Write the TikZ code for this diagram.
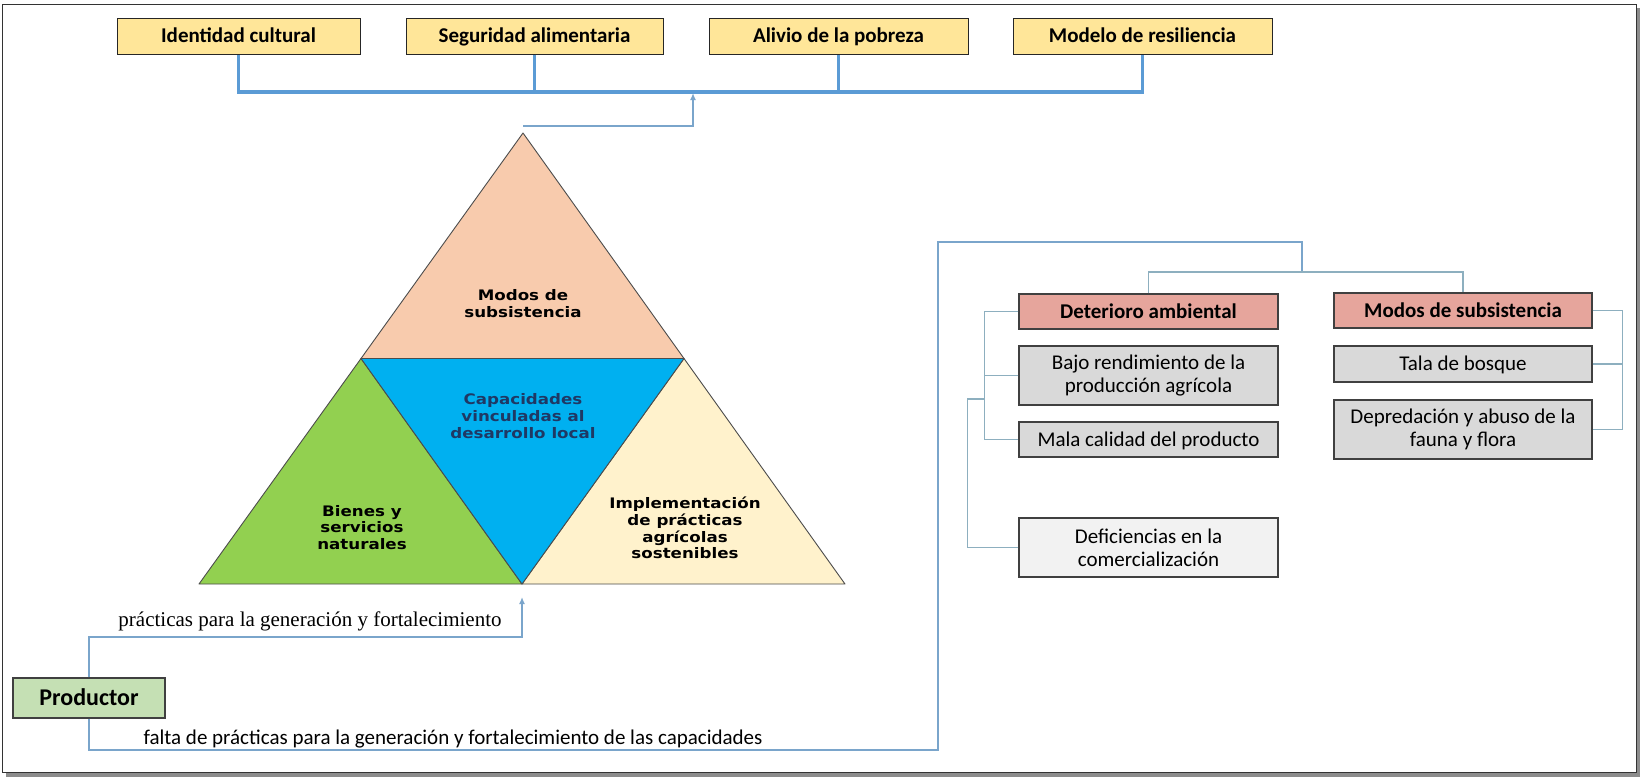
\documentclass[tikz,border=0pt]{standalone}
\usepackage{fontspec}
\setmainfont{Carlito}
\newfontfamily\trifont[FakeStretch=1.15]{DejaVu Sans}
\newfontfamily\serifont{Liberation Serif}
\usetikzlibrary{arrows.meta, positioning}
\definecolor{barblue}{HTML}{5B9BD5}
\definecolor{linkblue}{HTML}{7AA5CB}
\definecolor{treeline}{HTML}{8DAFBF}
\definecolor{goalfill}{HTML}{FFE699}
\definecolor{causefill}{HTML}{E6A59C}
\definecolor{effectfill}{HTML}{D9D9D9}
\definecolor{lightfill}{HTML}{F2F2F2}
\definecolor{prodfill}{HTML}{C5E0B4}
\definecolor{tripeach}{HTML}{F8CBAD}
\definecolor{trigreen}{HTML}{92D050}
\definecolor{triblue}{HTML}{00B0F0}
\definecolor{tricream}{HTML}{FFF2CC}
\definecolor{trinavy}{HTML}{1F3864}
\def\barY{92}
\def\treeY{272}

\begin{document}
\begin{tikzpicture}[
    x=1pt, y=-1pt,
    >={Latex[length=7pt,width=6pt]},
    oneline/.style={text height=15pt, text depth=2pt},
    goalbox/.style={draw=black!85, fill=goalfill, line width=1pt, minimum height=36pt,
        inner sep=0pt, oneline, font=\bfseries\fontsize{21}{24}\selectfont},
    causebox/.style={draw=black!75, fill=causefill, line width=1.2pt, minimum width=259pt,
        minimum height=35pt, inner sep=0pt, oneline, font=\bfseries\fontsize{21}{24}\selectfont},
    effectbox/.style={draw=black!75, fill=effectfill, line width=1.2pt, minimum width=259pt,
        minimum height=35pt, inner sep=0pt, align=center, font=\fontsize{21}{23}\selectfont},
    prodbox/.style={draw=black!75, fill=prodfill, line width=1.2pt, minimum width=152pt,
        minimum height=40pt, inner sep=0pt, text height=17pt, text depth=2pt,
        font=\bfseries\fontsize{24}{26}\selectfont},
    tri/.style={draw=black!70, line width=0.9pt, line join=round},
    trilabel/.style={align=center, inner sep=0pt, font=\trifont\bfseries\fontsize{14.5}{16.8}\selectfont},
    bar/.style={draw=barblue, line width=3.5pt},
    link/.style={draw=linkblue, line width=1.5pt},
    tree/.style={draw=treeline, line width=1.5pt}
]
\useasboundingbox (0,0) rectangle (1640,777);
% frame with shadow
\fill[black!45] (6,8) rectangle (1640,777);
\filldraw[fill=white, draw=black!80, line width=1pt] (2,4) rectangle (1636,772);

% goals on top
\node[goalbox, minimum width=243pt] (ident) at (238.5,36) {Identidad cultural};
\node[goalbox, minimum width=257pt] (segur) at (534.5,36) {Seguridad alimentaria};
\node[goalbox, minimum width=259pt] (alivio) at (838.5,36) {Alivio de la pobreza};
\node[goalbox, minimum width=259pt] (resil) at (1142.5,36) {Modelo de resiliencia};
\draw[bar] (ident.south) |- (resil.south |- 0,\barY) -- (resil.south);
\draw[bar] (segur.south) -- (segur.south |- 0,\barY);
\draw[bar] (alivio.south) -- (alivio.south |- 0,\barY);

% triangle
\coordinate (apex) at (523,133);
\coordinate (baseL) at (199,584);
\coordinate (baseR) at (845,584);
\coordinate (midL) at (361,358.5);
\coordinate (midR) at (684,358.5);
\coordinate (midB) at (522,584);
\filldraw[tri, fill=tripeach] (apex) -- (midL) -- (midR) -- cycle;
\filldraw[tri, fill=trigreen] (midL) -- (baseL) -- (midB) -- cycle;
\filldraw[tri, fill=tricream] (midR) -- (midB) -- (baseR) -- cycle;
\filldraw[tri, fill=triblue] (midL) -- (midR) -- (midB) -- cycle;
\node[trilabel] (modosTri) at (523,303.5) {Modos de\\subsistencia};
\node[trilabel, text=trinavy] (capac) at (523,416) {Capacidades\\vinculadas al\\desarrollo local};
\node[trilabel] (bienes) at (362,527.5) {Bienes y\\servicios\\naturales};
\node[trilabel] (implem) at (685,528) {Implementaci\'on\\de pr\'acticas\\agr\'icolas\\sostenibles};

% triangle up to the goals
\coordinate (apexLink) at (523,126);
\coordinate (barTip) at (693,93);
\draw[link, ->] (apexLink) -| (barTip);

% productor
\node[prodbox] (prod) at (89,698) {Productor};
\coordinate (baseTip) at (522,597);
\draw[link, ->] (prod.north) |- (baseTip |- 0,637) -- (baseTip);
\node[font=\serifont\fontsize{21}{24}\selectfont, inner sep=0pt] (practLbl) at (310,621)
    {pr\'acticas para la generaci\'on y fortalecimiento};

% right tree
\node[causebox] (deter) at (1148.5,311.5) {Deterioro ambiental};
\node[effectbox, minimum height=59pt] (bajo) at (1148.5,375.5) {Bajo rendimiento de la\\producci\'on agr\'icola};
\node[effectbox, oneline] (mala) at (1148.5,439.5) {Mala calidad del producto};
\node[effectbox, fill=lightfill, minimum height=59pt] (defic) at (1148.5,547.5) {Deficiencias en la\\comercializaci\'on};
\node[causebox, minimum width=258pt] (modos) at (1463,310.5) {Modos de subsistencia};
\node[effectbox, oneline, minimum width=258pt, minimum height=36pt] (tala) at (1463,364) {Tala de bosque};
\node[effectbox, minimum width=258pt, minimum height=59pt] (depre) at (1463,429.5) {Depredaci\'on y abuso de la\\fauna y flora};

\coordinate (faltaCorner) at (938,750);
\coordinate (treeTop) at (1302,242);
\draw[link] (prod.south) |- (faltaCorner) |- (treeTop) -- (treeTop |- 0,\treeY);
\node[inner sep=0pt, font=\fontsize{21}{24}\selectfont] (faltaLbl) at (453,739)
    {falta de pr\'acticas para la generaci\'on y fortalecimiento de las capacidades};
\draw[tree] (deter.north) |- (modos.north |- 0,\treeY) -- (modos.north);

% brackets
\coordinate (joinDef) at (985,399);
\draw[tree] (deter.west) -- ++(-34,0) |- (mala.west);
\draw[tree] (bajo.west) -- ++(-34,0);
\draw[tree] (defic.west) -- ++(-51,0) |- (joinDef);
\draw[tree] (modos.east) -- ++(30,0) |- (depre.east);
\draw[tree] (tala.east) -- ++(30,0);
\end{tikzpicture}
\end{document}
